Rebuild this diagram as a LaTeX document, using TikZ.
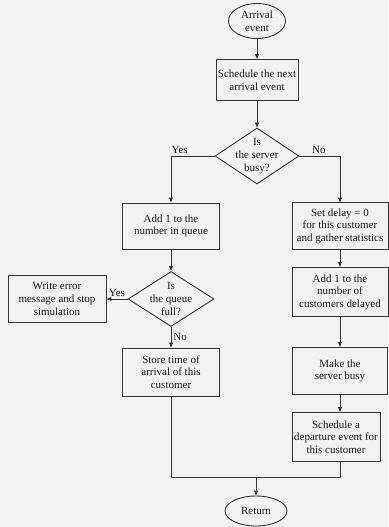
\documentclass[tikz,border=0pt]{standalone}
\usepackage{fontspec}
\setmainfont{Liberation Serif}
\usetikzlibrary{shapes.geometric,arrows.meta}
\begin{document}
\begin{tikzpicture}[x=1pt,y=-1pt,
  every node/.style={font=\fontsize{11}{12.6}\selectfont, text=black!90},
  line/.style={draw=black!80, line width=0.9pt},
  arr/.style={line, -{Triangle[length=5pt,width=3.8pt]}},
  box/.style={line, rectangle, align=center, inner sep=1pt},
  dia/.style={line, diamond, inner sep=0pt},
  oval/.style={line, ellipse, align=center, inner sep=0pt},
  txt/.style={align=center, inner sep=0pt},
  lab/.style={inner sep=2pt}]
\useasboundingbox (0,0) rectangle (388,527);
\fill[black!5] (0,0) rectangle (388,527);
% nodes
\node[oval, minimum width=57, minimum height=35] (arr) at (257,21) {Arrival\\event};
\node[box, minimum width=82, minimum height=41] (sch) at (257,80) {Schedule the next\\arrival event};
\node[dia, minimum width=84, minimum height=56] (d1) at (257,156) {};
\node[txt] (d1t) at (d1) {Is\\the server\\busy?};
\node[box, minimum width=97, minimum height=46] (q1) at (171,226) {Add 1 to the\\number in queue};
\node[dia, minimum width=86, minimum height=55] (d2) at (171,299) {};
\node[txt] (d2t) at (d2) {Is\\the queue\\full?};
\node[box, minimum width=98, minimum height=47] (err) at (57,299) {Write error\\message and stop\\simulation};
\node[box, minimum width=97, minimum height=48] (st) at (171,372) {Store time of\\arrival of this\\customer};
\node[box, minimum width=96, minimum height=47] (r1) at (340,226) {Set delay = 0\\for this customer\\and gather statistics};
\node[box, minimum width=96, minimum height=49] (r2) at (340,292) {Add 1 to the\\number of\\customers delayed};
\node[box, minimum width=95, minimum height=47] (r3) at (340,371) {Make the\\server busy};
\node[box, minimum width=88, minimum height=49] (r4) at (336,437) {Schedule a\\departure event for\\this customer};
\node[oval, minimum width=62, minimum height=30] (ret) at (256,511) {Return};
\coordinate (m) at (256,477);
\coordinate (r4b) at (340,462);
% connectors
\draw[arr] (arr) -- (sch);
\draw[arr] (sch) -- (d1);
\draw[arr] (d1.west) -| (q1.north) node[lab, pos=0.4, above] {Yes};
\draw[arr] (d1.east) -| (q1.north -| r1.north) node[lab, pos=0.24, above] {No};
\draw[arr] (q1) -- (d2);
\draw[arr] (d2.west) -- (err.east) node[lab, midway, above] {Yes};
\draw[arr] (d2.south) -- (st.north) node[lab, midway, right] {No};
\draw[arr] (r1) -- (r2);
\draw[arr] (r2) -- (r3);
\draw[arr] (r3.south) -- (r3.south |- r4.north);
\draw[line] (st.south) |- (m);
\draw[line] (r4b) |- (m);
\draw[arr] (m) -- (ret.north);
\end{tikzpicture}
\end{document}
